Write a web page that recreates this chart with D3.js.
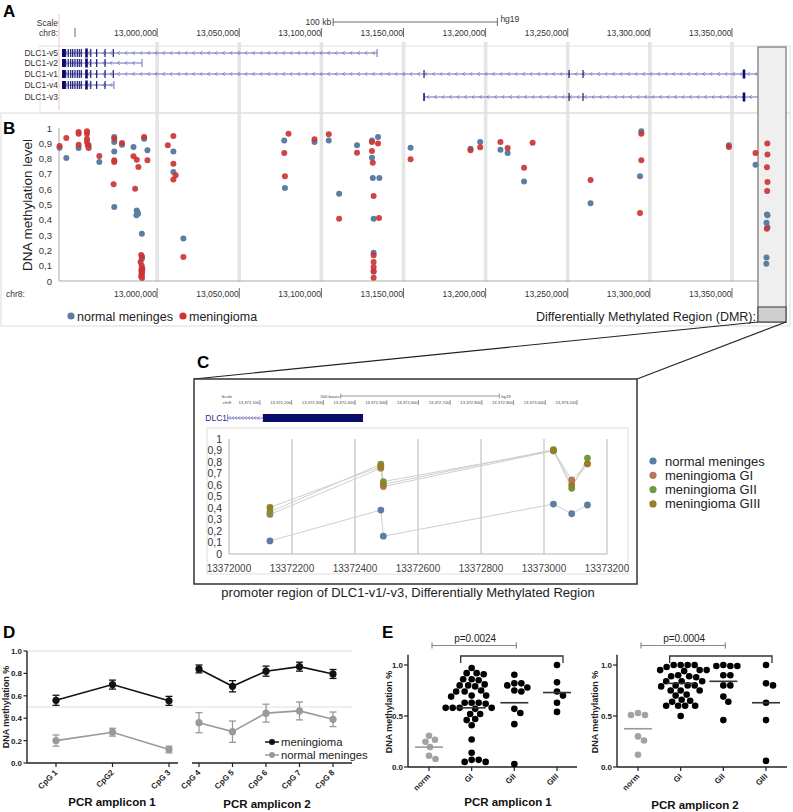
<!DOCTYPE html>
<html><head><meta charset="utf-8">
<script src="https://cdn.jsdelivr.net/npm/d3@7"></script>
<style>body{margin:0;background:#fff}svg{display:block}text{font-family:"Liberation Sans",Arial,sans-serif}</style>
</head><body><svg id="c" width="793" height="812"></svg>
<script>
// ================= DATA =================
// Panel A: genome ticks and transcripts (hg19 bp)
const genomeTicks = [12950000,13000000,13050000,13100000,13150000,13200000,13250000,13300000,13350000];
const genomeTickLabels = ["","13,000,000","13,050,000","13,100,000","13,150,000","13,200,000","13,250,000","13,300,000","13,350,000"];
const transcripts = ["DLC1-v5","DLC1-v2","DLC1-v1","DLC1-v4","DLC1-v3"];
const txStart = [12942100,12942100,12942100,12942100,13162500];
const txEnd   = [13133900,12990800,13372500,12973700,13372500];
const txFirstBlock = [true,true,true,true,false];
const txExons = [
  [12944300,12945900,12947400,12948600,12950000,12951400,12952600,12953800,12959600,12963200,12968300,12973300],
  [12944300,12945900,12947400,12948600,12950000,12951400,12952600,12953800,12959600,12963200,12968300],
  [12944300,12945900,12947400,12948600,12950000,12951400,12952600,12953800,12959600,12963200,12968300,12973300,13162500,13250800,13259300],
  [12944300,12945900,12947400,12948600,12950000,12951400,12952600,12953800,12959600,12963200,12968300],
  [13162500,13250800,13259300]
];
const txThick = [[12957000],[12957000],[12957000,13357300],[12957000],[13357300]];

// Panel B: 450K CpG methylation
const bYLabels = ["0","0,1","0,2","0,3","0,4","0,5","0,6","0,7","0,8","0,9","1"];
const normalPos = [12940600,12944700,12952200,12958300,12964800,12973900,12973900,12973900,12973900,12978600,12985600,12992100,12994100,12987600,12988000,12988400,12987400,12990700,12990700,12990700,13009900,13009900,13016000,13077400,13077800,13095800,13104500,13110800,13121700,13130800,13130800,13131300,13131800,13131800,13131800,13134500,13135300,13154300,13190800,13196700,13209000,13213400,13223400,13263900,13294000,13294800,13348100,13364300,13371300,13371600,13371000,13371600,13371000,13370900];
const normalVal = [0.871,0.804,0.869,0.887,0.778,0.941,0.908,0.847,0.484,0.891,0.876,0.930,0.854,0.46,0.45,0.44,0.43,0.309,0.146,0.08,0.847,0.712,0.277,0.919,0.608,0.908,0.919,0.571,0.887,0.919,0.806,0.673,0.407,0.185,0.06,0.941,0.673,0.871,0.865,0.908,0.858,0.837,0.651,0.508,0.684,0.978,0.887,0.760,0.434,0.429,0.381,0.351,0.153,0.113];
const meningPos = [12940600,12944700,12952200,12952200,12952200,12957300,12957300,12957300,12957300,12957800,12958300,12964800,12973900,12973900,12973900,12973500,12978600,12985600,12986600,12987600,12988600,12992100,12994100,12990300,12990800,12989900,12990600,12991000,12990400,12990900,12990500,12990700,12990300,12990800,13006500,13009900,13009900,13009900,13011300,13016000,13077400,13077800,13080000,13095800,13104500,13110800,13121700,13130800,13130800,13131300,13131800,13131800,13131800,13131800,13131800,13131800,13134500,13135100,13154300,13190800,13196700,13209000,13213400,13223400,13228600,13263900,13294000,13294800,13294800,13348100,13364300,13371500,13371600,13371300,13371600,13371400,13371200];
const meningVal = [0.882,0.935,0.974,0.963,0.891,0.978,0.963,0.930,0.908,0.887,0.869,0.817,0.930,0.789,0.778,0.632,0.902,0.815,0.603,0.793,0.745,0.941,0.789,0.17,0.16,0.124,0.10,0.08,0.07,0.06,0.05,0.04,0.03,0.02,0.887,0.948,0.767,0.664,0.691,0.157,0.837,0.684,0.963,0.926,0.959,0.407,0.839,0.908,0.850,0.773,0.556,0.168,0.124,0.092,0.065,0.022,0.898,0.412,0.795,0.854,0.874,0.908,0.869,0.741,0.904,0.660,0.444,0.963,0.789,0.876,0.837,0.898,0.826,0.743,0.647,0.588,0.342];

// Panel C: DMR detail
const cBrowserTicks = [13372100,13372200,13372300,13372400,13372500,13372600,13372700,13372800,13372900,13373000,13373100];
const cXTicks = [13372000,13372200,13372400,13372600,13372800,13373000,13373200];
const cYLabels = ["0","0,1","0,2","0,3","0,4","0,5","0,6","0,7","0,8","0,9","1"];
const cPos = [13372130,13372482,13372490,13373030,13373088,13373138];
const cSeries = ["normal meninges","meningioma GI","meningioma GII","meningioma GIII"];
const cNormal = [0.114,0.382,0.155,0.434,0.350,0.426];
const cGI     = [0.344,0.746,0.586,0.898,0.644,0.784];
const cGII    = [0.367,0.781,0.630,0.898,0.571,0.834];
const cGIII   = [0.405,0.761,0.606,0.907,0.600,0.784];

// Panel D: pyrosequencing per CpG
const cpgLabels = ["CpG 1","CpG2","CpG 3","CpG 4","CpG 5","CpG 6","CpG 7","CpG 8"];
const dYTicks = [0,0.2,0.4,0.6,0.8,1.0];
const dMening = [0.56,0.70,0.555,0.84,0.685,0.82,0.86,0.795];
const dMeningErr = [0.045,0.04,0.04,0.035,0.05,0.045,0.04,0.04];
const dNormal = [0.20,0.275,0.12,0.36,0.28,0.445,0.465,0.39];
const dNormalErr = [0.05,0.035,0.03,0.09,0.095,0.08,0.08,0.065];

// Panel E: per-sample mean methylation by grade
const eCats = ["norm","GI","GII","GIII"];
const e1 = {
  norm:[0.306,0.267,0.247,0.195,0.11,0.078],
  GI:[0.97,0.92,0.91,0.92,0.86,0.85,0.86,0.79,0.81,0.80,0.80,0.74,0.75,0.74,0.70,0.70,0.69,0.63,0.63,0.62,0.63,0.58,0.58,0.58,0.57,0.58,0.52,0.52,0.46,0.47,0.41,0.27,0.14,0.07,0.05,0.05,0.07],
  GII:[0.905,0.82,0.82,0.80,0.78,0.75,0.74,0.57,0.53,0.42,0.03],
  GIII:[1.0,0.83,0.74,0.70,0.63,0.54]
};
const e2 = {
  norm:[0.53,0.51,0.51,0.30,0.26,0.12],
  GI:[1.0,1.0,1.0,1.0,0.98,0.95,0.95,0.95,0.94,0.89,0.90,0.89,0.88,0.84,0.84,0.84,0.80,0.80,0.79,0.80,0.75,0.75,0.75,0.70,0.71,0.66,0.64,0.65,0.60,0.60,0.60,0.60,0.50],
  GII:[0.99,0.99,0.99,1.0,0.90,0.90,0.80,0.80,0.69,0.64,0.46],
  GIII:[1.0,0.82,0.80,0.63,0.46,0.06]
};
const e1Median = [0.195,0.58,0.63,0.73];
const e2Median = [0.375,0.82,0.84,0.63];
const e1P = "p=0.0024", e2P = "p=0.0004";

// ================= DRAW =================
const svg = d3.select("#c");
function T(g,x,y,s,size,o={}){
  const t=g.append("text").attr("x",x).attr("y",y).text(s).attr("font-size",size)
    .attr("text-anchor",o.a||"start").attr("font-weight",o.w||"normal").attr("fill",o.c||"#000");
  if(o.r!==undefined) t.attr("transform",`rotate(${o.r},${x},${y})`);
  return t;
}
function L(g,x1,y1,x2,y2,c,w){return g.append("line").attr("x1",x1).attr("y1",y1).attr("x2",x2).attr("y2",y2).attr("stroke",c).attr("stroke-width",w||1);}
function intron(g,x1,x2,y,sp,col){
  L(g,x1,y,x2,y,col,1);
  let p="";
  for(let x=x1+sp/2;x<x2-2;x+=sp){p+=`M${x+1.6},${y-1.8}L${x-0.8},${y}L${x+1.6},${y+1.8}`;}
  g.append("path").attr("d",p).attr("fill","none").attr("stroke",col).attr("stroke-width",0.7);
}
const NAVY="#0b0b6e", INTR="#6c6cb4";
const BLUE="#5b7ea2", RED="#cd3434";

// ---- Panel A ----
const xG = d3.scaleLinear().domain([12950000,13350000]).range([75,732]);
const gA = svg.append("g");
genomeTicks.slice(1).forEach(t=>{gA.append("rect").attr("x",xG(t)-1.8).attr("y",42).attr("width",3.6).attr("height",240).attr("fill","#e5e5e5");});
gA.append("rect").attr("x",40).attr("y",46).attr("width",750).attr("height",67).attr("fill","none").attr("stroke","#e2e2e2");
gA.append("rect").attr("x",1).attr("y",113).attr("width",789).attr("height",213).attr("fill","none").attr("stroke","#dcdcdc");
L(gA,59,14,59,110,"#f3c4c4",1);
T(gA,3,17,"A",17,{w:"bold"});
T(gA,58,26,"Scale",8.5,{a:"end",c:"#333"});
T(gA,58,36,"chr8:",8.5,{a:"end",c:"#333"});
const sb0 = xG(13000000)+176, sb1 = sb0 + (xG(13100000)-xG(13000000));
L(gA,sb0,22,sb1,22,"#444",0.8); L(gA,sb0,18,sb0,26,"#444",0.8); L(gA,sb1,18,sb1,26,"#444",0.8);
T(gA,sb0-2,25,"100 kb",8.5,{a:"end",c:"#333"});
T(gA,sb1+3,22,"hg19",8.5,{c:"#333"});
genomeTicks.forEach((t,i)=>{
  L(gA,xG(t),28,xG(t),37,"#444",0.8);
  if(genomeTickLabels[i]) T(gA,xG(t)-0.5,36,genomeTickLabels[i],8.5,{a:"end",c:"#333"});
});
const rowY=[53,63,74,85,97];
transcripts.forEach((n,i)=>{
  const y=rowY[i];
  T(gA,58,y+3,n,8.5,{a:"end",c:"#333"});
  intron(gA,xG(txStart[i]),xG(txEnd[i]),y,7.5,INTR);
  if(txFirstBlock[i]) gA.append("rect").attr("x",xG(txStart[i])).attr("y",y-4).attr("width",3).attr("height",8).attr("fill",NAVY);
  else L(gA,xG(txStart[i]),y-4,xG(txStart[i]),y+4,NAVY,1);
  txExons[i].forEach(e=>L(gA,xG(e),y-4,xG(e),y+4,NAVY,1.1));
  txThick[i].forEach(e=>gA.append("rect").attr("x",xG(e)-1.3).attr("y",y-4.5).attr("width",2.6).attr("height",9).attr("fill",NAVY));
  L(gA,xG(txEnd[i]),y-4,xG(txEnd[i]),y+4,INTR,1);
});

// ---- Panel B ----
const gB = svg.append("g");
const yB = d3.scaleLinear().domain([0,1]).range([281,128]);
T(gB,3,134,"B",17,{w:"bold"});
bYLabels.forEach((s,i)=>T(gB,52,yB(i/10)+3.5,s,9.5,{a:"end",c:"#333"}));
L(gB,59,128,59,281,"#aaa",1); L(gB,59,281,770,281,"#aaa",1);
T(gB,6,297,"chr8:",8.5,{c:"#333"});
genomeTicks.slice(1).forEach((t,i)=>{L(gB,xG(t),288,xG(t),298,"#444",0.8);T(gB,xG(t)-0.5,297,genomeTickLabels[i+1],8.5,{a:"end",c:"#333"});});
T(gB,32,205,"DNA methylation level",13.5,{a:"middle",r:-90,c:"#222"});
gB.append("rect").attr("x",758).attr("y",47).attr("width",28).attr("height",275).attr("fill","#efefef").attr("stroke","#8f8f8f").attr("stroke-width",1.5);
gB.append("rect").attr("x",758).attr("y",307).attr("width",28).attr("height",15).attr("fill","#cfcfcf").attr("stroke","#333").attr("stroke-width",1);
normalPos.forEach((p,i)=>gB.append("circle").attr("cx",xG(p)).attr("cy",yB(normalVal[i])).attr("r",3).attr("fill",BLUE));
meningPos.forEach((p,i)=>gB.append("circle").attr("cx",xG(p)).attr("cy",yB(meningVal[i])).attr("r",3).attr("fill",RED).attr("fill-opacity",0.92));
gB.append("circle").attr("cx",71).attr("cy",316).attr("r",3.6).attr("fill",BLUE);
T(gB,77,320.5,"normal meninges",12.5,{c:"#222"});
gB.append("circle").attr("cx",183).attr("cy",316).attr("r",3.6).attr("fill",RED);
T(gB,189,320.5,"meningioma",12.5,{c:"#222"});
T(gB,756,320.5,"Differentially Methylated Region (DMR):",12.5,{a:"end",c:"#222"});
L(gB,758,322,194,379,"#222",1.2); L(gB,786,322,637,379,"#222",1.2);

// ---- Panel C ----
const gC = svg.append("g");
T(gC,197,368,"C",17,{w:"bold"});
gC.append("rect").attr("x",194).attr("y",379).attr("width",443).attr("height",205).attr("fill","#fff").attr("stroke","#333").attr("stroke-width",1.5);
const xCm = d3.scaleLinear().domain([13372100,13373100]).range([260,577]);
T(gC,232,398,"Scale",4.2,{a:"end",c:"#444"});
T(gC,232,404,"chr8:",4.2,{a:"end",c:"#444"});
const cb0 = xCm(13372350)+1.5, cb1 = cb0 + (xCm(13372600)-xCm(13372100));
L(gC,cb0,396,cb1,396,"#555",0.6); L(gC,cb0,393.5,cb0,398.5,"#555",0.6); L(gC,cb1,393.5,cb1,398.5,"#555",0.6);
T(gC,cb0-1,398,"500 bases",4.2,{a:"end",c:"#444"});
T(gC,cb1+2,397.5,"hg19",4.2,{c:"#444"});
cBrowserTicks.forEach(t=>{L(gC,xCm(t),400,xCm(t),405,"#555",0.6);T(gC,xCm(t)-0.6,404,d3.format(",")(t),4.2,{a:"end",c:"#444"});});
T(gC,227,421,"DLC1",8.5,{a:"end",c:"#2b2b8a"});
intron(gC,xCm(13371998),xCm(13372109),418,3.2,"#8080c0");
L(gC,xCm(13371998),414,xCm(13371998),422,"#6a6ab0",0.8);
gC.append("rect").attr("x",xCm(13372109)).attr("y",414).attr("width",xCm(13372425)-xCm(13372109)).attr("height",8).attr("fill",NAVY);
gC.append("rect").attr("x",207).attr("y",428).attr("width",421).attr("height",146).attr("fill","none").attr("stroke","#dedede");
const xC = d3.scaleLinear().domain([13372000,13373200]).range([229,607]);
const yC = d3.scaleLinear().domain([0,1]).range([554,439]);
cXTicks.slice(1).forEach(t=>L(gC,xC(t),439,xC(t),554,"#b5b5b5",1));
L(gC,229,439,229,554,"#b5b5b5",1); L(gC,229,554,607,554,"#b5b5b5",1);
cYLabels.forEach((s,i)=>T(gC,222,yC(i/10)+3.8,s,10.5,{a:"end",c:"#333"}));
cXTicks.forEach(t=>T(gC,xC(t),572,String(t),10,{a:"middle",c:"#444"}));
const cCols=[BLUE,"#b5775a","#6c9a40","#9a7d22"];
[cNormal,cGI,cGII,cGIII].forEach((vals,k)=>{
  const line=d3.line().x((d,i)=>xC(cPos[i])).y(d=>yC(d));
  gC.append("path").attr("d",line(vals)).attr("fill","none").attr("stroke","#cfcfcf").attr("stroke-width",1);
});
[cNormal,cGI,cGII,cGIII].forEach((vals,k)=>{
  vals.forEach((v,i)=>gC.append("circle").attr("cx",xC(cPos[i])).attr("cy",yC(v)).attr("r",3.4).attr("fill",cCols[k]));
});
T(gC,408,597,"promoter region of DLC1-v1/-v3, Differentially Methylated Region",13,{a:"middle",c:"#222"});
cSeries.forEach((s,i)=>{
  gC.append("circle").attr("cx",653).attr("cy",461+i*14.3).attr("r",3.6).attr("fill",cCols[i]);
  T(gC,665,465.5+i*14.3,s,13,{c:"#222"});
});

// ---- Panel D ----
const gD = svg.append("g");
T(gD,3,638,"D",17,{w:"bold"});
const yD = d3.scaleLinear().domain([0,1]).range([763,651]);
const xD1 = d3.scalePoint().domain(cpgLabels.slice(0,3)).range([56,169]);
const xD2 = d3.scalePoint().domain(cpgLabels.slice(3)).range([199,333]);
const xD = i => i<3 ? xD1(cpgLabels[i]) : xD2(cpgLabels[i]);
L(gD,27,yD(1),352,yD(1),"#dedede",1); L(gD,27,yD(0.5),352,yD(0.5),"#dedede",1);
L(gD,27,yD(1),27,763,"#222",1.4);
dYTicks.forEach(t=>{L(gD,23.5,yD(t),27,yD(t),"#222",1.2);T(gD,22,yD(t)+3,t.toFixed(1),8,{a:"end",w:"bold",c:"#222"});});
L(gD,27,763,178,763,"#222",1.6); L(gD,192,763,352,763,"#222",1.6);
cpgLabels.forEach((s,i)=>{const x=xD(i);L(gD,x,763,x,767,"#222",1.2);T(gD,x+2,773,s,8,{a:"end",w:"bold",r:-45,c:"#222"});});
T(gD,9,707,"DNA methylation %",9,{a:"middle",w:"bold",r:-90,c:"#222"});
T(gD,112,806,"PCR amplicon 1",11.5,{a:"middle",w:"bold",c:"#111"});
T(gD,267,808,"PCR amplicon 2",11.5,{a:"middle",w:"bold",c:"#111"});
function drawSeries(vals,errs,col){
  [[0,1,2],[3,4,5,6,7]].forEach(idx=>{
    const line=d3.line().x(i=>xD(i)).y(i=>yD(vals[i]));
    gD.append("path").attr("d",line(idx)).attr("fill","none").attr("stroke",col).attr("stroke-width",1.6);
  });
  vals.forEach((v,i)=>{
    const x=xD(i);
    L(gD,x,yD(v-errs[i]),x,yD(v+errs[i]),col,1.3);
    L(gD,x-3.5,yD(v-errs[i]),x+3.5,yD(v-errs[i]),col,1.3);
    L(gD,x-3.5,yD(v+errs[i]),x+3.5,yD(v+errs[i]),col,1.3);
    gD.append("circle").attr("cx",x).attr("cy",yD(v)).attr("r",3.6).attr("fill",col);
  });
}
drawSeries(dNormal,dNormalErr,"#9a9a9a");
drawSeries(dMening,dMeningErr,"#111");
[["meningioma","#111",742],["normal meninges","#9a9a9a",755]].forEach(([s,c,y])=>{
  L(gD,265,y,279,y,c,1.5); gD.append("circle").attr("cx",272).attr("cy",y).attr("r",3).attr("fill",c);
  T(gD,281,y+4,s,11.3,{c:"#222"});
});

// ---- Panel E ----
const gE = svg.append("g");
T(gE,382,638,"E",17,{w:"bold"});
const yE = d3.scaleLinear().domain([0,1]).range([767,665]);
function swarm(vals,cx,r){
  const order=vals.map((v,i)=>i).sort((a,b)=>vals[b]-vals[a]);
  const placed=[]; const out=[];
  order.forEach(i=>{
    const y=yE(vals[i]);
    for(let k=0;k<400;k++){
      const off=(k%2?1:-1)*Math.ceil(k/2)*0.5;
      const x=cx+off;
      if(placed.every(p=>(p[0]-x)**2+(p[1]-y)**2>=(2*r+0.3)**2)){placed.push([x,y]);out.push([x,y]);break;}
    }
  });
  return out;
}
function panelE(data,medians,xs,axX0,axX1,pText,title,titleX,titleY,yTitleX){
  L(gE,axX0,767,axX0,yE(1.1),"#222",1.4);
  L(gE,axX0,767,axX1,767,"#222",1.6);
  [0,0.5,1].forEach(t=>{L(gE,axX0-4,yE(t),axX0,yE(t),"#222",1.2);T(gE,axX0-5,yE(t)+3,t.toFixed(1),8,{a:"end",w:"bold",c:"#222"});});
  eCats.forEach(c=>{const x=xs(c);L(gE,x,767,x,771,"#222",1.2);T(gE,x+2,777,c,8,{a:"end",w:"bold",r:-45,c:"#222"});});
  T(gE,yTitleX,712,"DNA methylation %",9,{a:"middle",w:"bold",r:-90,c:"#222"});
  T(gE,titleX,titleY,title,11.5,{a:"middle",w:"bold",c:"#111"});
  eCats.forEach((c,k)=>{
    const col=k===0?"#a3a3a3":"#000";
    swarm(data[c],xs(c),3.3).forEach(p=>gE.append("circle").attr("cx",p[0]).attr("cy",p[1]).attr("r",3.3).attr("fill",col));
    L(gE,xs(c)-14,yE(medians[k]),xs(c)+14,yE(medians[k]),k===0?"#9a9a9a":"#333",1.6);
  });
  const a=xs("norm")+3,b=xs("GII")+2;
  L(gE,a,645.5,b,645.5,"#888",1.2); L(gE,a,642.5,a,648.5,"#888",1.2); L(gE,b,642.5,b,648.5,"#888",1.2);
  T(gE,(a+b)/2+1,642,pText,10,{a:"middle",c:"#222"});
  const c0=xs("GI")-11,c1=xs("GIII")+6;
  gE.append("path").attr("d",`M${c0},663V656H${c1}V663`).attr("fill","none").attr("stroke","#333").attr("stroke-width",1.3);
}
panelE(e1,e1Median,d3.scalePoint().domain(eCats).range([429,557]),408,577,e1P,"PCR amplicon 1",508,806,392);
panelE(e2,e2Median,d3.scalePoint().domain(eCats).range([638,766]),617,787,e2P,"PCR amplicon 2",695,809,598);
</script></body></html>
